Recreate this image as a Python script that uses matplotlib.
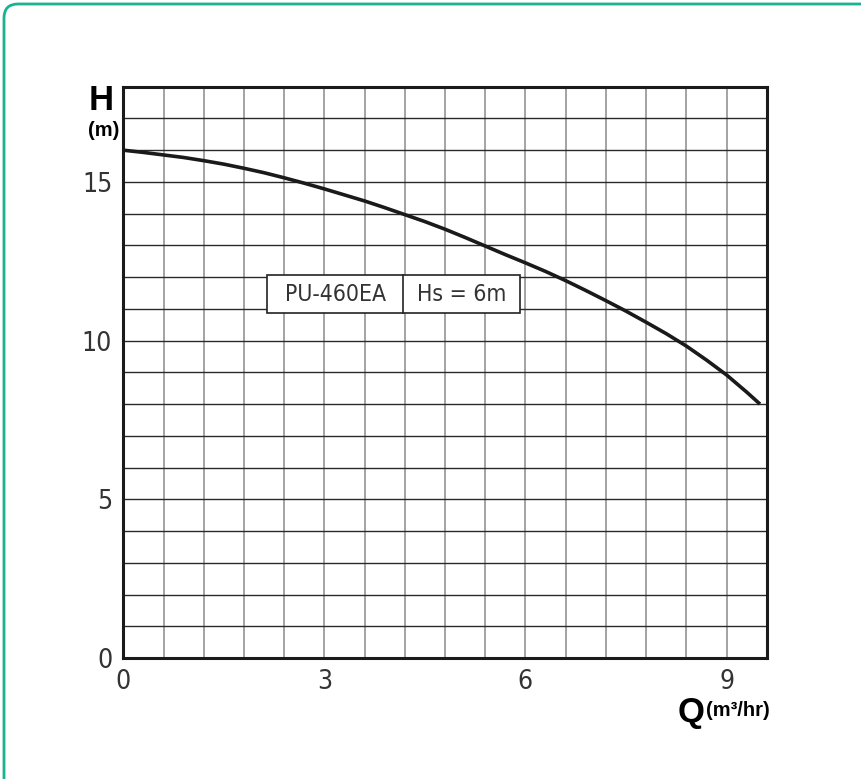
import matplotlib
matplotlib.use('Agg')
import matplotlib.pyplot as plt
from matplotlib.patches import Rectangle, FancyBboxPatch
from matplotlib.transforms import IdentityTransform

# pump curve (Q in m3/hr, H in m)
flow = [0, 0.3, 0.6, 0.9, 1.2, 1.5, 1.8, 2.1, 2.4, 2.7, 3.0, 3.3, 3.6, 3.9, 4.2, 4.5,
        4.8, 5.1, 5.4, 5.7, 6.0, 6.3, 6.6, 6.9, 7.2, 7.5, 7.8, 8.1, 8.4, 8.7, 9.0, 9.3, 9.5]
head = [16.0, 15.93, 15.85, 15.77, 15.67, 15.56, 15.43, 15.29, 15.13, 14.96, 14.78, 14.59,
        14.40, 14.19, 13.97, 13.75, 13.51, 13.25, 12.98, 12.71, 12.45, 12.18, 11.89, 11.58,
        11.26, 10.93, 10.58, 10.22, 9.83, 9.39, 8.92, 8.38, 8.0]

x_ticks = [0, 3, 6, 9]
y_ticks = [0, 5, 10, 15]
model_label = 'PU-460EA'
suction_label = 'Hs = 6m'

bold = ['Liberation Sans', 'DejaVu Sans']

fig = plt.figure(figsize=(8.61, 7.79), dpi=100)
ax = fig.add_axes([0.1432, 0.1553, 0.7473, 0.7334])

ax.set_xlim(0, 9.6)
ax.set_ylim(0, 18)

# grid: 0.6 steps on Q, 1 m steps on H
for i in range(1, 16):
  ax.axvline(i * 0.6, color='#8a8a8a', lw=1.1, zorder=1)
for j in range(1, 18):
  ax.axhline(j, color='#2a2a2a', lw=1.0, zorder=1)

ax.plot(flow, head, color='#1a1a1a', lw=2.6, solid_joinstyle='round', solid_capstyle='butt', zorder=3)

# label box
ax.add_patch(Rectangle((2.14, 10.86), 5.92 - 2.14, 12.08 - 10.86, facecolor='white',
                       edgecolor='#222222', lw=1.2, zorder=4))
ax.plot([4.18, 4.18], [10.86, 12.08], color='#222222', lw=1.2, zorder=5)
ax.text(3.16, 11.45, model_label, ha='center', va='center', fontsize=16.5,
        family='DejaVu Sans', stretch='condensed', color='#333333', zorder=6)
ax.text(5.05, 11.45, suction_label, ha='center', va='center', fontsize=16.5,
        family='DejaVu Sans', stretch='condensed', color='#333333', zorder=6)

ax.set_xticks(x_ticks)
ax.set_yticks(y_ticks)
ax.tick_params(length=0, labelsize=19, labelcolor='#333333')
ax.tick_params(axis='x', pad=8)
ax.tick_params(axis='y', pad=8)
for lab in ax.get_xticklabels() + ax.get_yticklabels():
  lab.set_family('DejaVu Sans')
  lab.set_stretch('condensed')

for s in ax.spines.values():
  s.set_linewidth(2.2)
  s.set_color('#1a1a1a')

# axis titles
fig.text(0.117, 0.871, 'H', fontsize=25, fontweight='bold', family=bold, ha='center', va='center')
fig.text(0.121, 0.833, '(m)', fontsize=14.5, fontweight='bold', family=bold, ha='center', va='center')
fig.text(0.803, 0.086, 'Q', fontsize=25, fontweight='bold', family=bold, ha='center', va='center')
fig.text(0.857, 0.088, '(m³/hr)', fontsize=14.5, fontweight='bold', family=bold, ha='center', va='center')

# green rounded frame around the whole card
frame = FancyBboxPatch((4, -20), 890, 795, boxstyle='round,pad=0,rounding_size=14',
                       transform=IdentityTransform(), facecolor='none',
                       edgecolor='#19b391', lw=2.0, figure=fig)
fig.patches.append(frame)

fig.savefig('out.png', dpi=100)
